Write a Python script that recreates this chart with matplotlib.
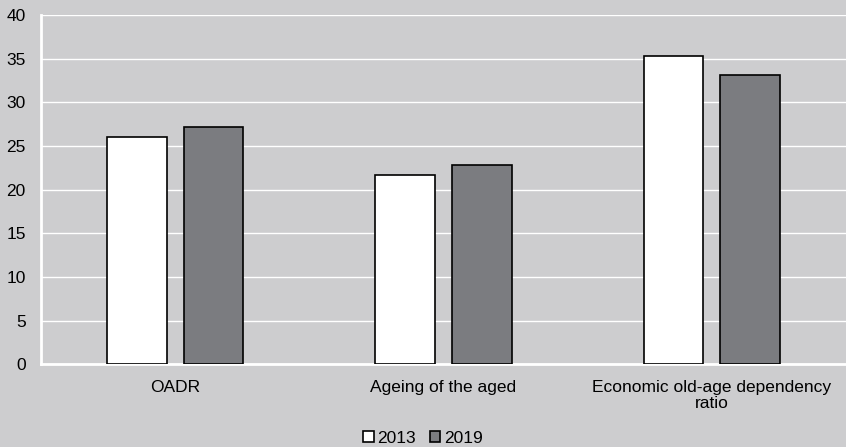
import matplotlib.pyplot as plt
import numpy as np

plt.rcParams['font.family'] = ['Liberation Sans', 'DejaVu Sans']

categories = ["OADR", "Ageing of the aged", "Economic old-age dependency\nratio"]
years = ["2013", "2019"]
values_2013 = [26.05, 21.65, 35.35]
values_2019 = [27.15, 22.85, 33.2]

bg = "#cdcdcf"
fig = plt.figure(figsize=(8.46, 4.47), dpi=100, facecolor=bg)
ax = fig.add_axes([0.0485, 0.185, 0.9515, 0.781])
ax.set_facecolor(bg)

x = np.arange(len(categories))
w = 0.223
ax.bar(x - 0.143, values_2013, w, color="white", edgecolor="black", linewidth=1.2,
       label=years[0], zorder=3)
ax.bar(x + 0.143, values_2019, w, color="#7b7c80", edgecolor="black", linewidth=1.2,
       label=years[1], zorder=3)

ax.set_xlim(-0.5, 2.5)
ax.set_ylim(0, 40)
ax.set_yticks(np.arange(0, 41, 5))
ax.yaxis.grid(True, color="white", linewidth=1.0, zorder=0)
ax.set_axisbelow(True)
for s in ["top", "right"]:
    ax.spines[s].set_visible(False)
ax.spines["left"].set_color("white")
ax.spines["left"].set_linewidth(2)
ax.spines["bottom"].set_color("white")
ax.spines["bottom"].set_linewidth(2)
ax.tick_params(axis="both", length=0, labelsize=12.5, colors="black")
ax.tick_params(axis="y", pad=11)
ax.tick_params(axis="x", pad=11.5)
ax.set_xticks(x)
ax.set_xticklabels(categories, linespacing=1.05)

fig.legend(loc="center", bbox_to_anchor=(0.5, 0.02), ncol=2, frameon=False,
           fontsize=12.5, handlelength=0.6, handleheight=0.6, handletextpad=0.2,
           columnspacing=0.8)

fig.savefig("out.png", dpi=100, facecolor=bg)
